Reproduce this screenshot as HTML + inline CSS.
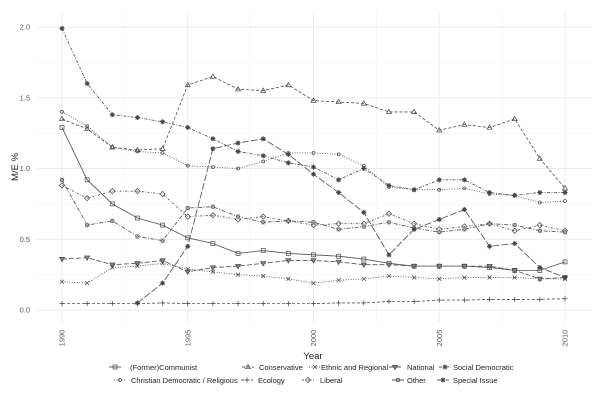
<!DOCTYPE html>
<html><head><meta charset="utf-8"><style>
html,body{margin:0;padding:0;background:#fff;}
svg{display:block;font-family:"Liberation Sans",sans-serif;}
</style></head><body>
<svg id="c" width="602" height="416" viewBox="0 0 602 416" xmlns="http://www.w3.org/2000/svg">
<g id="grid"></g>
<g fill="#555" font-size="7.5" text-anchor="end">
<text x="30" y="312.5">0.0</text>
<text x="30" y="241.8">0.5</text>
<text x="30" y="171">1.0</text>
<text x="30" y="100.3">1.5</text>
<text x="30" y="29.5">2.0</text>
</g>
<g fill="#555" font-size="7.5" text-anchor="middle">
<text transform="translate(64.5,338) rotate(-90)">1990</text>
<text transform="translate(190.3,338) rotate(-90)">1995</text>
<text transform="translate(316,338) rotate(-90)">2000</text>
<text transform="translate(441.8,338) rotate(-90)">2005</text>
<text transform="translate(567.5,338) rotate(-90)">2010</text>
</g>
<text x="313" y="359" font-size="9.5" text-anchor="middle" fill="#222">Year</text>
<text transform="translate(18,167) rotate(-90)" font-size="9.5" text-anchor="middle" fill="#222">M/E %</text>
<g id="series"></g>
<g id="legend" font-size="7.5" fill="#222">
<text x="130" y="370">(Former)Communist</text>
<text x="259" y="370">Conservative</text>
<text x="321" y="370">Ethnic and Regional</text>
<text x="407" y="370">National</text>
<text x="453" y="370">Social Democratic</text>
<text x="131" y="383">Christian Democratic / Religious</text>
<text x="258" y="383">Ecology</text>
<text x="320" y="383">Liberal</text>
<text x="407" y="383">Other</text>
<text x="453" y="383">Special Issue</text>
</g>
</svg>
<script>
const NS="http://www.w3.org/2000/svg";
const X=y=>62+(y-1990)*25.15, Y=v=>310-v*141.5;
function el(t,a,p){const e=document.createElementNS(NS,t);for(const k in a)e.setAttribute(k,a[k]);p.appendChild(e);return e;}
const g=document.getElementById('grid');
for(let v=0;v<=2.01;v+=0.25){const maj=Math.abs(v*2-Math.round(v*2))<0.01;el('line',{x1:37,x2:592,y1:Y(v),y2:Y(v),stroke:maj?'#ebebeb':'#f4f4f4','stroke-width':maj?0.9:0.6},g);}
for(let y=1987.5;y<=2012.5;y+=2.5){const maj=y%5===0;const x=X(y);if(x<37||x>592)continue;el('line',{x1:x,x2:x,y1:12,y2:322,stroke:maj?'#ebebeb':'#f4f4f4','stroke-width':maj?0.9:0.6},g);}
const S=[
{m:'sq',d:'',s:[1990,[1.29,0.92,0.75,0.65,0.60,0.51,0.47,0.40,0.42,0.40,0.39,0.38,0.36,0.33,0.31,0.31,0.31,0.30,0.28,0.28,0.34]]},
{m:'tri',d:'3,2',s:[1990,[1.35,1.28,1.15,1.13,1.14,1.59,1.65,1.56,1.55,1.59,1.48,1.47,1.46,1.40,1.40,1.27,1.31,1.29,1.35,1.07,0.86]]},
{m:'x',d:'1,1.5',s:[1990,[0.20,0.19,0.30,0.31,0.33,0.29,0.27,0.25,0.24,0.22,0.19,0.21,0.22,0.24,0.23,0.22,0.23,0.23,0.23,0.22,0.22]]},
{m:'tdn',d:'5,2',s:[1990,[0.36,0.37,0.32,0.33,0.35,0.27,0.30,0.31,0.33,0.35,0.35,0.34,0.32,0.32,0.31,0.31,0.31,0.31,0.28,0.22,0.23]]},
{m:'ast',d:'3,1.5,1,1.5',s:[1990,[1.99,1.60,1.38,1.36,1.33,1.29,1.21,1.12,1.09,1.04,1.01,0.92,1.00,0.88,0.85,0.92,0.92,0.83,0.81,0.83,0.83]]},
{m:'ci',d:'1,1.5',s:[1990,[1.40,1.30,1.15,1.12,1.11,1.02,1.01,1.00,1.05,1.11,1.11,1.10,1.02,0.87,0.85,0.85,0.86,0.82,0.81,0.76,0.77]]},
{m:'plus',d:'3,2',s:[1990,[0.045,0.045,0.045,0.045,0.05,0.045,0.045,0.045,0.045,0.045,0.045,0.05,0.05,0.06,0.06,0.07,0.07,0.075,0.075,0.075,0.08]]},
{m:'dia',d:'2,1.5,0.6,1.5',s:[1990,[0.88,0.79,0.84,0.84,0.82,0.66,0.67,0.64,0.66,0.63,0.60,0.61,0.61,0.68,0.61,0.57,0.59,0.61,0.56,0.60,0.56]]},
{m:'fsq',d:'4,1.5,1,1.5',s:[1990,[0.92,0.60,0.63,0.52,0.49,0.72,0.73,0.66,0.62,0.63,0.62,0.57,0.59,0.62,0.58,0.55,0.57,0.61,0.60,0.56,0.55]]},
{m:'star',d:'7,2',s:[1993,[0.05,0.19,0.45,1.14,1.18,1.21,1.10,0.96,0.83,0.69,0.39,0.57,0.64,0.71,0.45,0.47,0.30,0.23]]}
];
const col='#444';
function mk(t,x,y,p){const a={stroke:col,'stroke-width':0.7,fill:'none'};const r=2;
 if(t==='sq')el('rect',Object.assign({x:x-r,y:y-r,width:2*r,height:2*r},a),p);
 else if(t==='fsq'){el('rect',{x:x-r,y:y-r,width:2*r,height:2*r,fill:'#555'},p);el('path',Object.assign({d:`M${x-r} ${y-r}L${x+r} ${y+r}M${x+r} ${y-r}L${x-r} ${y+r}`},a,{stroke:'#ccc'}),p);}
 else if(t==='tri')el('path',Object.assign({d:`M${x} ${y-2.6}L${x+2.5} ${y+1.7}L${x-2.5} ${y+1.7}Z`},a),p);
 else if(t==='tdn')el('path',{d:`M${x} ${y+2.6}L${x+2.5} ${y-1.7}L${x-2.5} ${y-1.7}Z`,fill:'#888',stroke:col,'stroke-width':0.7},p);
 else if(t==='x')el('path',Object.assign({d:`M${x-2} ${y-2}L${x+2} ${y+2}M${x+2} ${y-2}L${x-2} ${y+2}`},a),p);
 else if(t==='plus')el('path',Object.assign({d:`M${x-2.6} ${y}L${x+2.6} ${y}M${x} ${y-2.6}L${x} ${y+2.6}`},a),p);
 else if(t==='ci')el('circle',Object.assign({cx:x,cy:y,r:1.5},a),p);
 else if(t==='dia')el('path',Object.assign({d:`M${x} ${y-2.6}L${x+2.6} ${y}L${x} ${y+2.6}L${x-2.6} ${y}Z`},a),p);
 else if(t==='ast'||t==='star'){el('path',Object.assign({d:`M${x-2.5} ${y}L${x+2.5} ${y}M${x} ${y-2.5}L${x} ${y+2.5}M${x-1.8} ${y-1.8}L${x+1.8} ${y+1.8}M${x+1.8} ${y-1.8}L${x-1.8} ${y+1.8}`},a,{'stroke-width':1}),p);if(t==='star')el('circle',{cx:x,cy:y,r:1.1,fill:col},p);}
}
const sg=document.getElementById('series');
S.forEach(s=>{const pts=s.s[1].map((v,i)=>[X(s.s[0]+i),Y(v)]);
 el('polyline',{points:pts.map(p=>p.join(',')).join(' '),fill:'none',stroke:'#555','stroke-width':0.85,'stroke-dasharray':s.d},sg);
 pts.forEach(p=>mk(s.m,p[0],p[1],sg));});
const L=[[115,367,0],[248,367,1],[315,367,2],[395,367,3],[445,367,4],[120,380,5],[247,380,6],[308,380,7],[398,380,8],[443,380,9]];
const lg=document.getElementById('legend');
L.forEach(([x,y,i])=>{el('line',{x1:x-6,x2:x+6,y1:y,y2:y,stroke:'#555','stroke-width':0.9,'stroke-dasharray':S[i].d},lg);mk(S[i].m,x,y,lg);});
</script>
</body></html>
